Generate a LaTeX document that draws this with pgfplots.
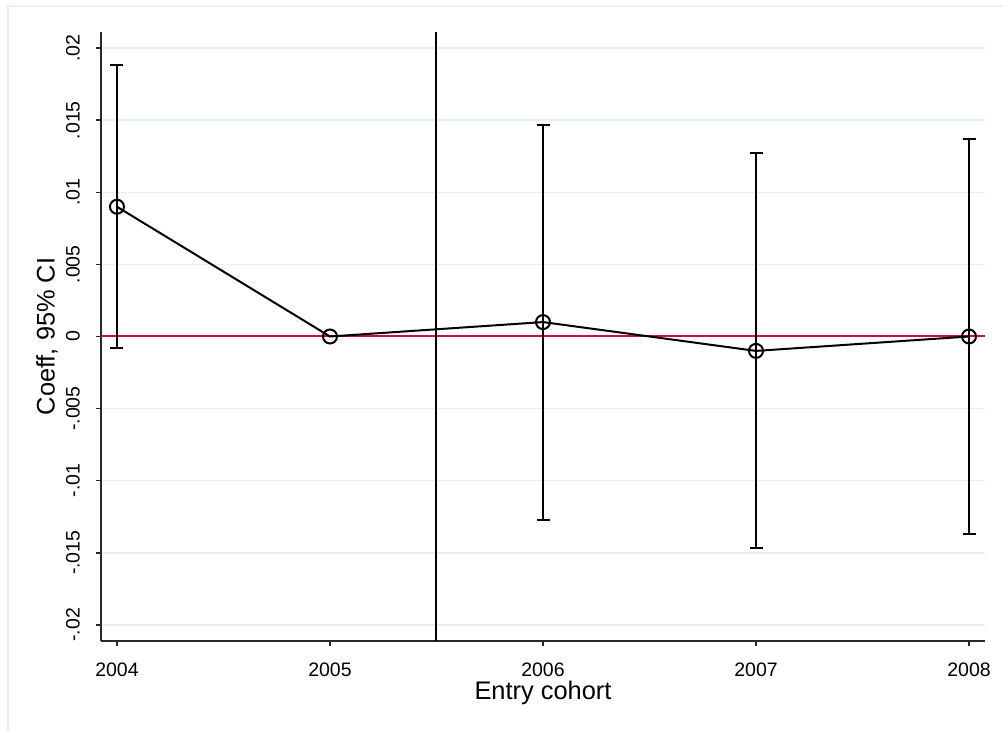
\documentclass[border=0pt]{standalone}
\usepackage{fontspec}
\setmainfont{Liberation Sans}
\usepackage{pgfplots}
\pgfplotsset{compat=1.18}
\definecolor{gridc}{RGB}{232,240,242}
\definecolor{zeroc}{RGB}{200,16,64}
\definecolor{axc}{RGB}{40,40,40}
\begin{document}
\begin{tikzpicture}
\useasboundingbox (0pt,0pt) rectangle (501.5pt,-366pt);
\draw[gridc, line width=0.8pt] (4pt,-366pt) -- (4pt,-3pt) -- (501.5pt,-3pt);
\begin{axis}[
  at={(50.5pt,-320.5pt)}, anchor=south west,
  scale only axis, width=442pt, height=304.5pt,
  xmin=2003.925, xmax=2008.075, ymin=-0.02112, ymax=0.02112,
  axis x line*=bottom, axis y line*=left,
  scaled y ticks=false, scaled x ticks=false,
  xtick={2004,2005,2006,2007,2008},
  xticklabels={2004,2005,2006,2007,2008},
  ytick={-0.02,-0.015,-0.01,-0.005,0,0.005,0.01,0.015,0.02},
  yticklabels={-.02,-.015,-.01,-.005,0,.005,.01,.015,.02},
  ymajorgrids, grid style={gridc, line width=0.8pt},
  tick align=outside, major tick length=2.5pt,
  tick style={axc, line width=0.8pt},
  axis line style={axc, line width=0.8pt},
  xlabel={Entry cohort}, ylabel={Coeff, 95\% CI},
  label style={font=\fontsize{12.7}{14}\selectfont},
  ticklabel style={font=\fontsize{9.75}{11}\selectfont},
  yticklabel style={rotate=90, anchor=south, yshift=4.5pt},
  xticklabel style={yshift=-5pt},
  xlabel style={at={(axis description cs:0.5,0)}, anchor=center, yshift=-26pt},
  ylabel style={at={(axis description cs:-0.0611,0.5)}, anchor=center},
  clip=false,
]
\draw[zeroc, line width=1pt] (axis cs:2003.925,0) -- (axis cs:2008.075,0);
\draw[black, line width=1pt] (axis cs:2005.5,-0.02112) -- (axis cs:2005.5,0.02112);
\addplot[draw=none, mark=none, forget plot,
  error bars/.cd, y dir=both, y explicit,
  error bar style={draw=black, solid, line width=1pt},
  error mark options={rotate=90, mark size=3.25pt, line width=1pt, draw=black}]
  coordinates {
  (2004,0.009) +- (0,0.0098)
  (2006,0.001) +- (0,0.0137)
  (2007,-0.001) +- (0,0.0137)
  (2008,0) +- (0,0.0137)
  };
\addplot[black, line width=1pt, mark=none] coordinates {
  (2004,0.009) (2005,0) (2006,0.001) (2007,-0.001) (2008,0)};
\addplot[black, line width=1pt, only marks, mark=o, mark size=3.5pt] coordinates {
  (2004,0.009) (2005,0) (2006,0.001) (2007,-0.001) (2008,0)};
\end{axis}
\end{tikzpicture}
\end{document}
